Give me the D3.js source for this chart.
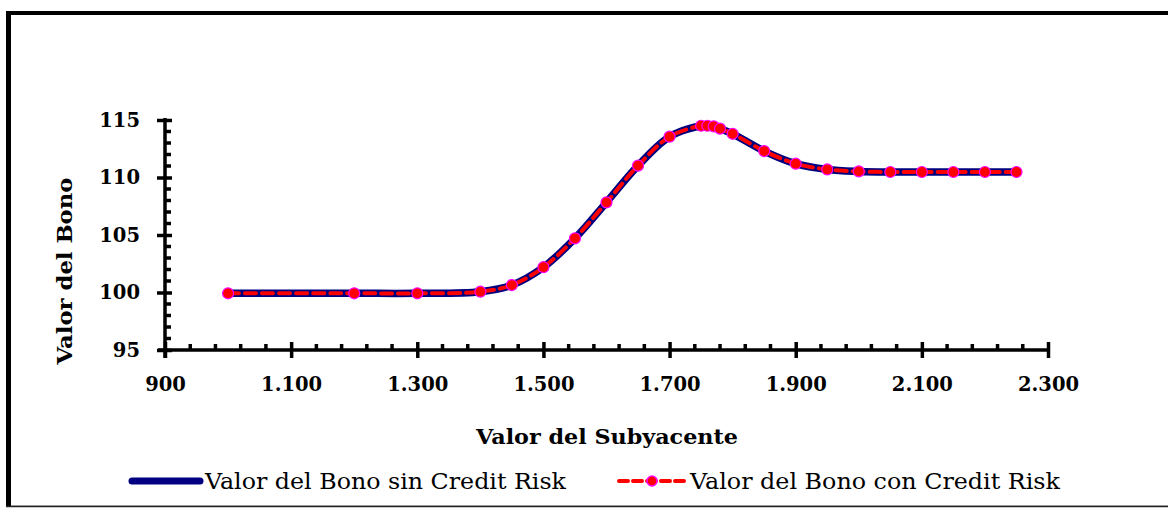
<!DOCTYPE html>
<html><head><meta charset="utf-8">
<script src="https://cdn.jsdelivr.net/npm/d3@7"></script>
<style>
body{margin:0;background:#fff;}
svg{display:block;}
</style></head>
<body>
<svg id="chart" width="1168" height="508"></svg>
<script>
const subyacente = [1000,1200,1300,1400,1450,1500,1550,1600,1650,1700,1750,1760,1770,1780,1800,1850,1900,1950,2000,2050,2100,2150,2200,2250];
const bonoSinCR = [99.93,99.93,99.93,100.07,100.65,102.2,104.71,107.84,111.03,113.55,114.5,114.5,114.45,114.25,113.8,112.3,111.2,110.7,110.53,110.48,110.48,110.48,110.48,110.48];
const bonoConCR = [99.93,99.93,99.93,100.07,100.65,102.2,104.71,107.84,111.03,113.55,114.5,114.5,114.45,114.25,113.8,112.3,111.2,110.7,110.53,110.48,110.48,110.48,110.48,110.48];
const xTicks = [900,1100,1300,1500,1700,1900,2100,2300];
const yTicks = [95,100,105,110,115];
const seriesNames = ["Valor del Bono sin Credit Risk","Valor del Bono con Credit Risk"];
const xTitle = "Valor del Subyacente";
const yTitle = "Valor del Bono";

const svg = d3.select("#chart");
const font = "'DejaVu Serif', 'Liberation Serif', serif";
const loc = d3.formatLocale({decimal:",", thousands:".", grouping:[3], currency:["",""]});
const fmt = loc.format(",d");

// frame
svg.append("rect").attr("x",8.5).attr("y",13).attr("width",1175).attr("height",493)
  .attr("fill","none").attr("stroke","#7f7f7f").attr("stroke-width",1);
svg.append("line").attr("x1",8.5).attr("x2",8.5).attr("y1",11).attr("y2",507).attr("stroke","#000").attr("stroke-width",5);
svg.append("line").attr("x1",6).attr("x2",1168).attr("y1",13).attr("y2",13).attr("stroke","#000").attr("stroke-width",4);
svg.append("line").attr("x1",6).attr("x2",1168).attr("y1",506.5).attr("y2",506.5).attr("stroke","#222").attr("stroke-width",1.5);

const x = d3.scaleLinear().domain([900,2300]).range([165,1048]);
const y = d3.scaleLinear().domain([95,115]).range([350,120]);

// minor ticks
const g = svg.append("g");
const xMinor = d3.range(900,2300,40).filter(v=>!xTicks.includes(v));
g.selectAll(".xm").data(xMinor).enter().append("line")
  .attr("x1",d=>x(d)).attr("x2",d=>x(d)).attr("y1",350).attr("y2",344)
  .attr("stroke","#000").attr("stroke-width",3.5);
const yMinor = d3.range(96,115,1).filter(v=>!yTicks.includes(v));
g.selectAll(".ym").data(yMinor).enter().append("line")
  .attr("x1",165).attr("x2",171).attr("y1",d=>y(d)).attr("y2",d=>y(d))
  .attr("stroke","#000").attr("stroke-width",3.5);

// axes
const xAxis = svg.append("g").attr("transform","translate(0,350)")
  .call(d3.axisBottom(x).tickValues(xTicks).tickFormat(fmt).tickSize(8).tickPadding(19));
xAxis.select(".domain").attr("stroke","#000").attr("stroke-width",3.5).attr("d","M158,0H1048");
xAxis.selectAll(".tick line").attr("y1",-8).attr("y2",8).attr("stroke","#000").attr("stroke-width",3.5);
xAxis.selectAll(".tick text").attr("font-family",font).attr("font-weight","bold").attr("font-size",19.5).attr("fill","#000");

const yAxis = svg.append("g").attr("transform","translate(165,0)")
  .call(d3.axisLeft(y).tickValues(yTicks).tickSize(8).tickPadding(17));
yAxis.select(".domain").attr("stroke","#000").attr("stroke-width",3.5).attr("d","M0,118V358");
yAxis.selectAll(".tick line").attr("x1",-8).attr("x2",7).attr("stroke","#000").attr("stroke-width",3.5);
yAxis.selectAll(".tick text").attr("font-family",font).attr("font-weight","bold").attr("font-size",19.5).attr("fill","#000");

// series
const curve = d3.curveCatmullRom.alpha(0.5);
const line1 = d3.line().x((d,i)=>x(subyacente[i])).y(d=>y(d)).curve(curve);
svg.append("path").datum(bonoSinCR).attr("d",line1).attr("fill","none")
  .attr("stroke","#000080").attr("stroke-width",7.5).attr("stroke-linejoin","round");
svg.append("path").datum(bonoConCR).attr("d",line1).attr("fill","none")
  .attr("stroke","#ff0000").attr("stroke-width",4).attr("stroke-dasharray","11,6").attr("stroke-linecap","round");
svg.selectAll(".pt").data(bonoConCR).enter().append("circle")
  .attr("cx",(d,i)=>x(subyacente[i])).attr("cy",d=>y(d)).attr("r",5.5)
  .attr("fill","#ff0000").attr("stroke","#ff00ff").attr("stroke-width",1.2);

// titles
svg.append("text").attr("x",607).attr("y",444).attr("text-anchor","middle")
  .attr("font-family",font).attr("font-weight","bold").attr("font-size",20)
  .attr("textLength",262).attr("lengthAdjust","spacingAndGlyphs").text(xTitle);
svg.append("text").attr("transform","translate(72,271) rotate(-90)").attr("text-anchor","middle")
  .attr("font-family",font).attr("font-weight","bold").attr("font-size",20)
  .attr("textLength",187).attr("lengthAdjust","spacingAndGlyphs").text(yTitle);

// legend
const lg = svg.append("g");
lg.append("line").attr("x1",132).attr("x2",200).attr("y1",481).attr("y2",481)
  .attr("stroke","#000080").attr("stroke-width",7).attr("stroke-linecap","round");
lg.append("text").attr("x",205).attr("y",489).attr("font-family",font).attr("font-size",21.5)
  .attr("textLength",361).attr("lengthAdjust","spacingAndGlyphs").text(seriesNames[0]);
lg.append("line").attr("x1",619).attr("x2",686).attr("y1",481).attr("y2",481)
  .attr("stroke","#ff0000").attr("stroke-width",4).attr("stroke-dasharray","9,5").attr("stroke-linecap","round");
lg.append("circle").attr("cx",652).attr("cy",481).attr("r",5).attr("fill","#ff0000").attr("stroke","#ff00ff").attr("stroke-width",1.5);
lg.append("text").attr("x",690).attr("y",489).attr("font-family",font).attr("font-size",21.5)
  .attr("textLength",370).attr("lengthAdjust","spacingAndGlyphs").text(seriesNames[1]);
</script>
</body></html>
